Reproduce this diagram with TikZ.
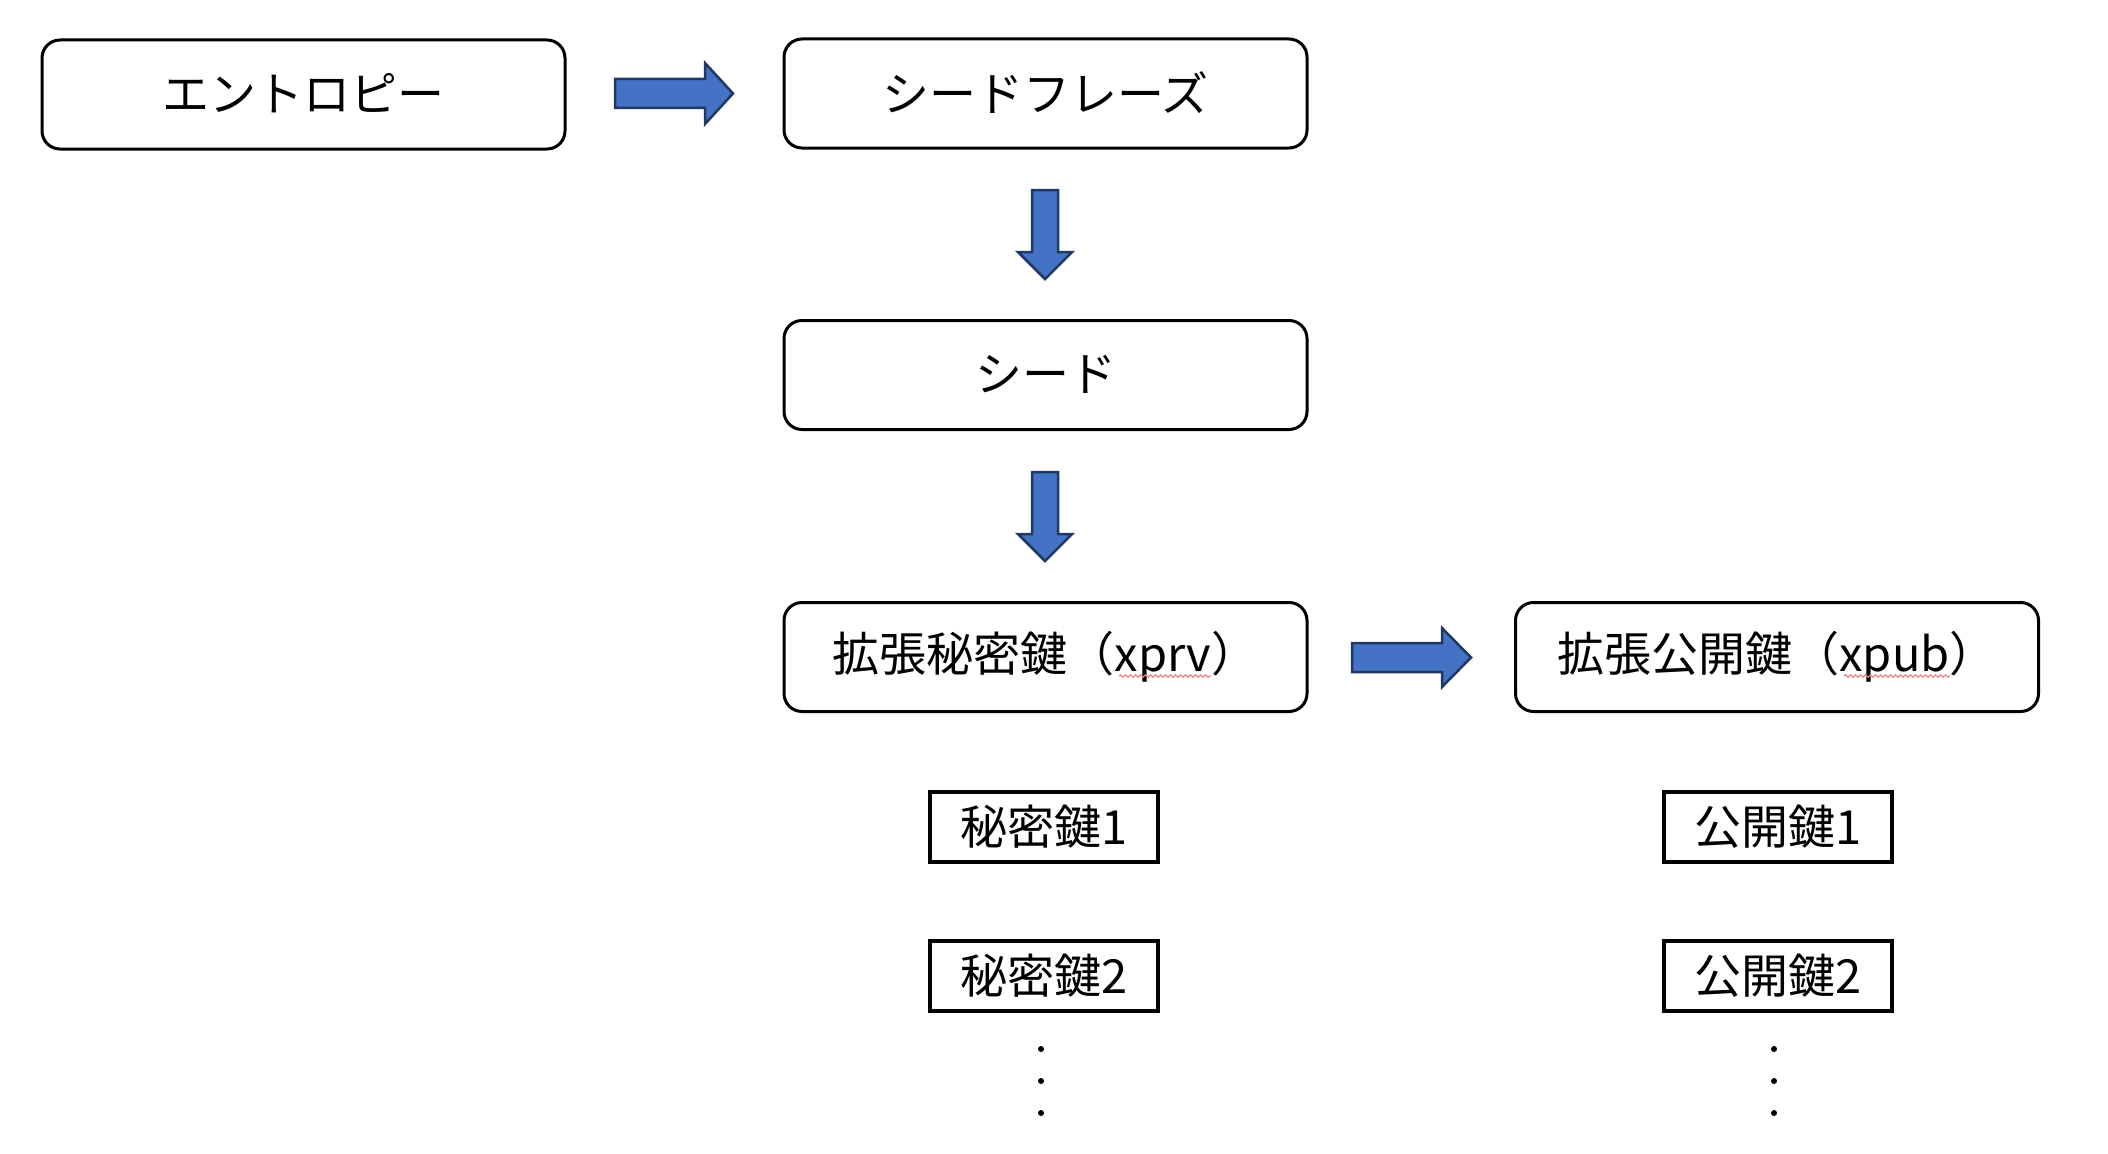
\documentclass[tikz,border=0pt]{standalone}
\usepackage{fontspec}
\setmainfont{Noto Sans CJK JP}
\usetikzlibrary{decorations.pathmorphing}
\definecolor{arrfill}{HTML}{4472C4}
\definecolor{arrline}{HTML}{1F3864}
\definecolor{squig}{HTML}{F08080}
\tikzset{
 rbox/.style={draw=black, line width=3pt, rounded corners=18pt, minimum width=523pt, minimum height=109pt, inner sep=0pt, font=\fontsize{47}{56}\selectfont},
 kbox/.style={draw=black, line width=3.5pt, minimum width=228pt, minimum height=70pt, inner sep=0pt, font=\fontsize{47}{56}\selectfont},
 blockarrow/.style={fill=arrfill, draw=arrline, line width=2.5pt, line join=miter},
 vdot/.style={circle, fill=black, inner sep=0pt, minimum size=6pt},
 squiggle/.style={draw=squig, line width=1.2pt, decorate, decoration={snake, amplitude=1.2pt, segment length=5pt}}
}
\begin{document}
\begin{tikzpicture}[x=1pt,y=-1pt]
\useasboundingbox (0,0) rectangle (2108,1153);
% boxes
\node[rbox] (ent)  at (303.5,94.5)  {\raisebox{4pt}{エントロピー}};
\node[rbox] (phr)  at (1045.5,93.5) {\raisebox{4pt}{シードフレーズ}};
\node[rbox] (seed) at (1045.5,375)  {\raisebox{4pt}{シード}};
\node[rbox] (xprv) at (1045.5,657)  {\raisebox{4pt}{拡張秘密鍵（xprv）}};
\node[rbox] (xpub) at (1777,657)    {\raisebox{4pt}{拡張公開鍵（xpub）}};
\node[kbox] (sk1) at (1044,827) {\raisebox{3pt}{秘密鍵1}};
\node[kbox] (sk2) at (1044,976) {\raisebox{3pt}{秘密鍵2}};
\node[kbox] (pk1) at (1778,827) {\raisebox{3pt}{公開鍵1}};
\node[kbox] (pk2) at (1778,976) {\raisebox{3pt}{公開鍵2}};
% dots
\node[vdot] (sd1) at (1041,1049) {};
\node[vdot] (sd2) at (1041,1081) {};
\node[vdot] (sd3) at (1041,1113) {};
\node[vdot] (pd1) at (1774,1049) {};
\node[vdot] (pd2) at (1774,1081) {};
\node[vdot] (pd3) at (1774,1113) {};
% block arrows
\draw[blockarrow] (615,79) -- (705,79) -- (705,63) -- (733,93.5) -- (705,124) -- (705,108) -- (615,108) -- cycle;
\draw[blockarrow] (1352,643) -- (1442,643) -- (1442,628) -- (1471,657.5) -- (1442,687) -- (1442,672) -- (1352,672) -- cycle;
\draw[blockarrow] (1032,190) -- (1058,190) -- (1058,252) -- (1072,252) -- (1045,279) -- (1018,252) -- (1032,252) -- cycle;
\draw[blockarrow] (1032,472) -- (1058,472) -- (1058,534) -- (1072,534) -- (1045,561) -- (1018,534) -- (1032,534) -- cycle;
% spell-check squiggles
\draw[squiggle] (1119,676) -- (1211,676);
\draw[squiggle] (1844,676) -- (1950,676);
\end{tikzpicture}
\end{document}
